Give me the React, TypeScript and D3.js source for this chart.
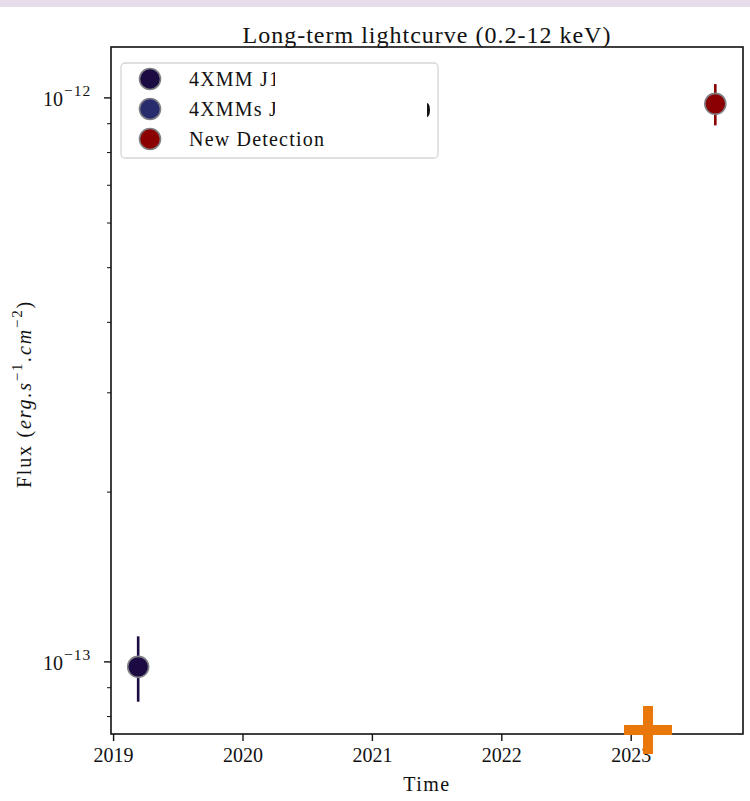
import * as d3 from "d3";

// series: decimal year, flux, symmetric flux error
const detTime = [2019.19, 2023.65];
const detFlux = [9.8e-14, 9.76e-13];
const detErr = [1.3e-14, 8.2e-14];
const detColor = ["#1c0a42", "#8b0000"];

// upper limit / new obs marker
const limTime = [2023.13];
const limFlux = [7.57e-14];

const legendLabels = ["4XMM J1", "4XMMs J", "New Detection"];
const legendColors = ["#1c0a42", "#282c6c", "#8b0000"];

const yearTicks = [2019, 2020, 2021, 2022, 2023];
const majorY = [1e-13, 1e-12];
const majorYExp = ["−13", "−12"];
const minorY = [8e-14, 9e-14, 2e-13, 3e-13, 4e-13, 5e-13, 6e-13, 7e-13, 8e-13, 9e-13];

const W = 750;
const H = 801;
const M = { left: 111, right: 743, top: 47, bottom: 734 };
const FONT = "'Liberation Serif', 'DejaVu Serif', serif";

export default function App() {
  const x = d3.scaleLinear().domain([2018.98, 2023.864]).range([M.left, M.right]);
  const y = d3.scaleLog().domain([7.45e-14, 1.231e-12]).range([M.bottom, M.top]);

  const plusPath = (cx: number, cy: number) => {
    const a = 24;
    const t = 5;
    return `M${cx - a},${cy - t}H${cx - t}V${cy - a}H${cx + t}V${cy - t}H${cx + a}V${cy + t}H${cx + t}V${cy + a}H${cx - t}V${cy + t}H${cx - a}Z`;
  };

  return (
    <svg
      width={W}
      height={H}
      style={{ position: "absolute", left: 0, top: 0, background: "#fff", fontFamily: FONT }}
    >
      <defs>
        <clipPath id="plotclip">
          <rect x={M.left} y={M.top} width={M.right - M.left} height={M.bottom - M.top} />
        </clipPath>
        <clipPath id="legclip">
          <rect x={180} y={60} width={95} height={100} />
        </clipPath>
      </defs>
      <rect x={0} y={0} width={W} height={7} fill="#e6dcea" />

      <text
        x={(M.left + M.right) / 2}
        y={43}
        textAnchor="middle"
        fontSize={24}
        letterSpacing={1}
        fill="#111"
      >
        Long-term lightcurve (0.2-12 keV)
      </text>

      {/* data */}
      <g clipPath="url(#plotclip)">
        {detTime.map((t, i) => (
          <g key={i}>
            <line
              x1={x(t)}
              x2={x(t)}
              y1={y(detFlux[i] + detErr[i])}
              y2={y(detFlux[i] - detErr[i])}
              stroke={detColor[i]}
              strokeWidth={2.6}
            />
            <circle cx={x(t)} cy={y(detFlux[i])} r={10.5} fill={detColor[i]} stroke="#7f7f86" strokeWidth={1.6} />
          </g>
        ))}
      </g>

      {/* frame */}
      <rect
        x={M.left}
        y={M.top}
        width={M.right - M.left}
        height={M.bottom - M.top}
        fill="none"
        stroke="#111"
        strokeWidth={1.6}
      />

      {/* x axis */}
      {yearTicks.map((yr) => (
        <g key={yr}>
          <line x1={x(yr)} x2={x(yr)} y1={M.bottom} y2={M.bottom + 7} stroke="#111" strokeWidth={1.4} />
          <text x={x(yr)} y={M.bottom + 28} textAnchor="middle" fontSize={20} fill="#111">
            {yr}
          </text>
        </g>
      ))}
      <text
        x={(M.left + M.right) / 2}
        y={791}
        textAnchor="middle"
        fontSize={20}
        letterSpacing={1.5}
        fill="#111"
      >
        Time
      </text>

      {/* y axis */}
      {majorY.map((v, i) => (
        <g key={v}>
          <line x1={M.left - 7} x2={M.left} y1={y(v)} y2={y(v)} stroke="#111" strokeWidth={1.4} />
          <text x={43} y={y(v) + 8} fontSize={20} fill="#111">
            10
            <tspan dx={1} dy={-10} fontSize={15.5} letterSpacing={1}>
              {majorYExp[i]}
            </tspan>
          </text>
        </g>
      ))}
      {minorY.map((v) => (
        <line key={v} x1={M.left - 4} x2={M.left} y1={y(v)} y2={y(v)} stroke="#111" strokeWidth={1} />
      ))}
      <text
        transform="translate(31,394) rotate(-90)"
        textAnchor="middle"
        fontSize={20}
        letterSpacing={1.8}
        fill="#111"
      >
        Flux (
        <tspan fontStyle="italic">erg.s</tspan>
        <tspan dy={-9} fontSize={15}>−1</tspan>
        <tspan dy={9} fontStyle="italic">.cm</tspan>
        <tspan dy={-9} fontSize={15}>−2</tspan>
        <tspan dy={9}>)</tspan>
      </text>

      {/* legend */}
      <rect x={121} y={63} width={317} height={95} rx={4} fill="#fff" fillOpacity={0.85} stroke="#d6d6d6" strokeWidth={1.3} />
      {legendLabels.map((lab, i) => (
        <g key={lab}>
          <circle cx={150} cy={79 + i * 30} r={10.5} fill={legendColors[i]} stroke="#7f7f86" strokeWidth={1.6} />
          <text
            x={189}
            y={86 + i * 30}
            fontSize={20}
            letterSpacing={1.2}
            fill="#111"
            clipPath={i < 2 ? "url(#legclip)" : undefined}
          >
            {lab}
          </text>
        </g>
      ))}
      <path d="M427,103 A3,7 0 0 1 427,117 Z" fill="#111" />

      {/* new observation marker, drawn unclipped on top */}
      {limTime.map((t, i) => (
        <path key={i} d={plusPath(x(t), y(limFlux[i]))} fill="#e9770a" />
      ))}
    </svg>
  );
}
